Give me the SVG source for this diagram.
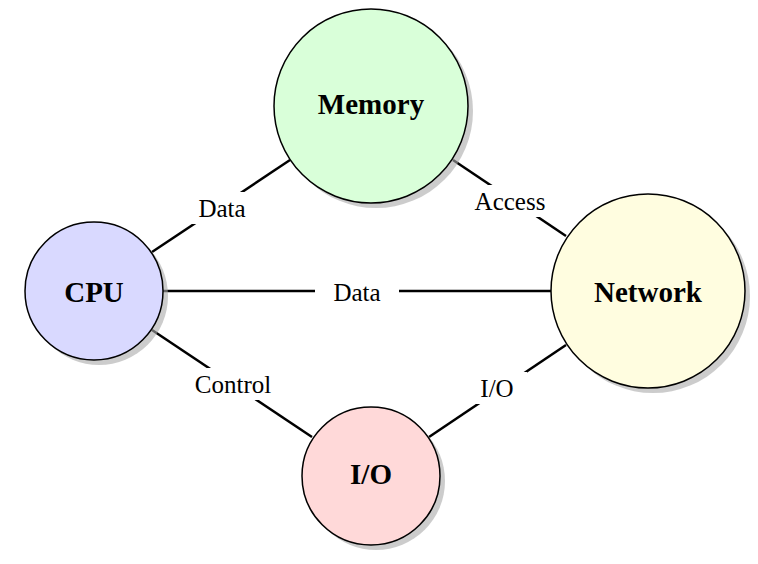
<svg xmlns="http://www.w3.org/2000/svg" width="758" height="564" viewBox="0 0 758 564">
<style>
.n{stroke:#000;stroke-width:1.5}
.s{fill:#aaa;opacity:0.6}
.t{font-family:"Liberation Serif",serif;font-weight:bold;font-size:29px;text-anchor:middle;dominant-baseline:central}
.l{font-family:"Liberation Serif",serif;font-size:25px;text-anchor:middle;dominant-baseline:central}
.e{stroke:#000;stroke-width:2.5}
</style>
<rect width="758" height="564" fill="#fff"/>
<g id="connectors">
<line class="e" x1="152" y1="252" x2="290" y2="160"/>
<line class="e" x1="453" y1="160" x2="566" y2="236"/>
<line class="e" x1="163" y1="291" x2="551" y2="291"/>
<line class="e" x1="152" y1="330" x2="312" y2="437"/>
<line class="e" x1="429" y1="437" x2="566" y2="345"/>
<rect x="182" y="192" width="80" height="32" fill="#fff"/>
<text class="l" x="222" y="208">Data</text>
<rect x="460" y="185" width="100" height="32" fill="#fff"/>
<text class="l" x="510" y="201">Access</text>
<rect x="315" y="276" width="84" height="32" fill="#fff"/>
<text class="l" x="357" y="292">Data</text>
<rect x="173" y="368" width="120" height="32" fill="#fff"/>
<text class="l" x="233" y="384">Control</text>
<rect x="467" y="372" width="60" height="32" fill="#fff"/>
<text class="l" x="497" y="388">I/O</text>
</g>
<g id="cpu"><circle class="s" cx="99" cy="296" r="69"/><circle class="n" cx="94" cy="291" r="69" fill="#d9d9ff"/><text class="t" x="94" y="292">CPU</text></g>
<g id="memory"><circle class="s" cx="376" cy="111" r="97"/><circle class="n" cx="371" cy="106" r="97" fill="#d9ffd9"/><text class="t" x="371" y="104">Memory</text></g>
<g id="network"><circle class="s" cx="653" cy="296" r="97"/><circle class="n" cx="648" cy="291" r="97" fill="#fffde0"/><text class="t" x="648" y="292">Network</text></g>
<g id="io"><circle class="s" cx="376" cy="481" r="69"/><circle class="n" cx="371" cy="476" r="69" fill="#ffd9d9"/><text class="t" x="371" y="474">I/O</text></g>
</svg>
